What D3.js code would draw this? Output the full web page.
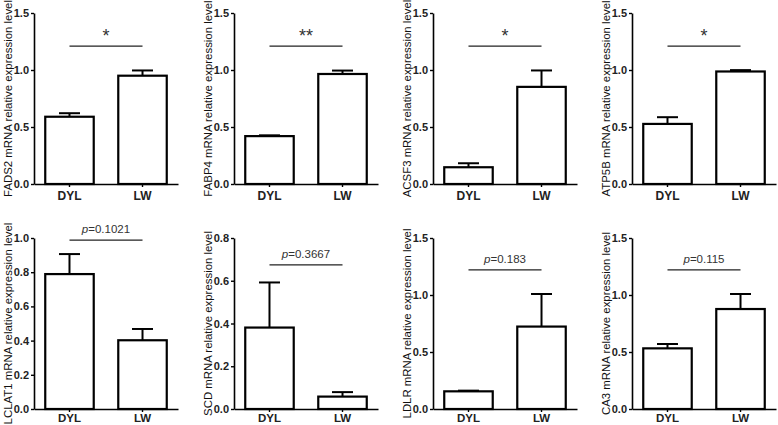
<!DOCTYPE html>
<meta charset="utf-8">
<style>
    body { margin: 0; background: #fff; }
    svg { display: block; background: #fff; }
    text { font-family: Arial, "Liberation Sans", sans-serif; }
</style>
<body>
<svg width="778" height="425"></svg>
<script src="https://cdn.jsdelivr.net/npm/d3@7"></script>
<script>
    // chart values
    var groups = ["DYL", "LW"];
    var genes = ["FADS2", "FABP4", "ACSF3", "ATP5B", "LCLAT1", "SCD", "LDLR", "CA3"];
    var means = [[0.59, 0.95], [0.42, 0.965], [0.147, 0.852], [0.527, 0.987],
                 [0.789, 0.402], [0.381, 0.058], [0.155, 0.723], [0.532, 0.877]];
    var upper = [[0.621, 0.996], [0.427, 0.995], [0.182, 0.996], [0.586, 0.999],
                 [0.906, 0.468], [0.592, 0.079], [0.161, 1.009], [0.570, 1.009]];
    var yMax = [1.5, 1.5, 1.5, 1.5, 1.0, 0.8, 1.5, 1.5];
    var yStep = [0.5, 0.5, 0.5, 0.5, 0.2, 0.2, 0.5, 0.5];
    var sigLevel = [1.21, 1.21, 1.21, 1.21, 0.988, 0.674, 1.22, 1.22];
    var sigLabel = ["*", "**", "*", "*", "0.1021", "0.3667", "0.183", "0.115"];

    var svg = d3.select("svg");
    var axisX = [34, 234, 433, 632];
    var rowTop = [13, 238], plotH = 171;

    genes.forEach(function (gene, i) {
        var col = i % 4, row = Math.floor(i / 4);
        var g = svg.append("g")
            .attr("transform", "translate(" + axisX[col] + "," + rowTop[row] + ")");

        var x = d3.scaleBand().domain(groups).range([0, 144])
            .paddingInner(0.336).paddingOuter(0.154);
        var y = d3.scaleLinear().domain([0, yMax[i]]).range([plotH, 0]);
        var bw = x.bandwidth();

        var data = groups.map(function (k, j) { return { key: k, v: means[i][j], hi: upper[i][j] }; });

        // error bars (drawn under bars)
        var eb = g.selectAll(".err").data(data).enter().append("g");
        eb.append("line")
            .attr("x1", function (d) { return x(d.key) + bw / 2; })
            .attr("x2", function (d) { return x(d.key) + bw / 2; })
            .attr("y1", function (d) { return y(d.v); })
            .attr("y2", function (d) { return y(d.hi); })
            .attr("stroke", "#000").attr("stroke-width", 2);
        eb.append("line")
            .attr("x1", function (d) { return x(d.key) + bw / 2 - 10.5; })
            .attr("x2", function (d) { return x(d.key) + bw / 2 + 10.5; })
            .attr("y1", function (d) { return y(d.hi); })
            .attr("y2", function (d) { return y(d.hi); })
            .attr("stroke", "#000").attr("stroke-width", 2);

        g.selectAll(".bar").data(data).enter().append("rect")
            .attr("x", function (d) { return x(d.key); })
            .attr("y", function (d) { return y(d.v); })
            .attr("width", bw)
            .attr("height", function (d) { return plotH - y(d.v); })
            .attr("fill", "#fff")
            .attr("stroke", "#000")
            .attr("stroke-width", 2.2);

        var yAxis = d3.axisLeft(y)
            .tickValues(d3.range(0, yMax[i] + 1e-9, yStep[i]))
            .tickFormat(d3.format(".1f"))
            .tickSize(3).tickSizeOuter(0).tickPadding(2);
        var ya = g.append("g").call(yAxis);
        ya.select(".domain").attr("stroke-width", 1.6);
        ya.selectAll(".tick line").attr("stroke-width", 1.4);
        ya.selectAll("text").attr("font-size", 11).attr("font-weight", "bold")
            .attr("font-family", "Arial, 'Liberation Sans', sans-serif").attr("fill", "#222");

        var xAxis = d3.axisBottom(x).tickSize(3).tickSizeOuter(0).tickPadding(row === 0 ? 4 : 2);
        var xa = g.append("g").attr("transform", "translate(0," + plotH + ")").call(xAxis);
        xa.select(".domain").attr("stroke-width", 1.6);
        xa.selectAll(".tick line").attr("stroke-width", 1.4);
        xa.selectAll("text").attr("font-size", row === 0 ? 12 : 11.5).attr("font-weight", "bold")
            .attr("font-family", "Arial, 'Liberation Sans', sans-serif").attr("fill", "#222");

        // y label
        g.append("text")
            .attr("transform", "translate(-22," + (plotH / 2) + ") rotate(-90)")
            .attr("text-anchor", "middle")
            .attr("font-size", 11.4)
            .attr("fill", "#111")
            .text(gene + " mRNA relative expression level");

        // significance line
        var x1 = x("DYL") + bw / 2, x2 = x("LW") + bw / 2;
        g.append("line")
            .attr("x1", x1).attr("x2", x2)
            .attr("y1", y(sigLevel[i])).attr("y2", y(sigLevel[i]))
            .attr("stroke", "#222").attr("stroke-width", 1.2);

        var lab = g.append("text")
            .attr("x", (x1 + x2) / 2)
            .attr("text-anchor", "middle")
            .attr("fill", "#333");
        if (sigLabel[i].charAt(0) === "*") {
            lab.attr("y", y(sigLevel[i]) - 4)
                .attr("font-size", 18)
                .text(sigLabel[i]);
        } else {
            lab.attr("y", y(sigLevel[i]) - 7)
                .attr("font-size", 11.5);
            lab.append("tspan").attr("font-style", "italic").text("p");
            lab.append("tspan").text("=" + sigLabel[i]);
        }
    });
</script>
</body>
